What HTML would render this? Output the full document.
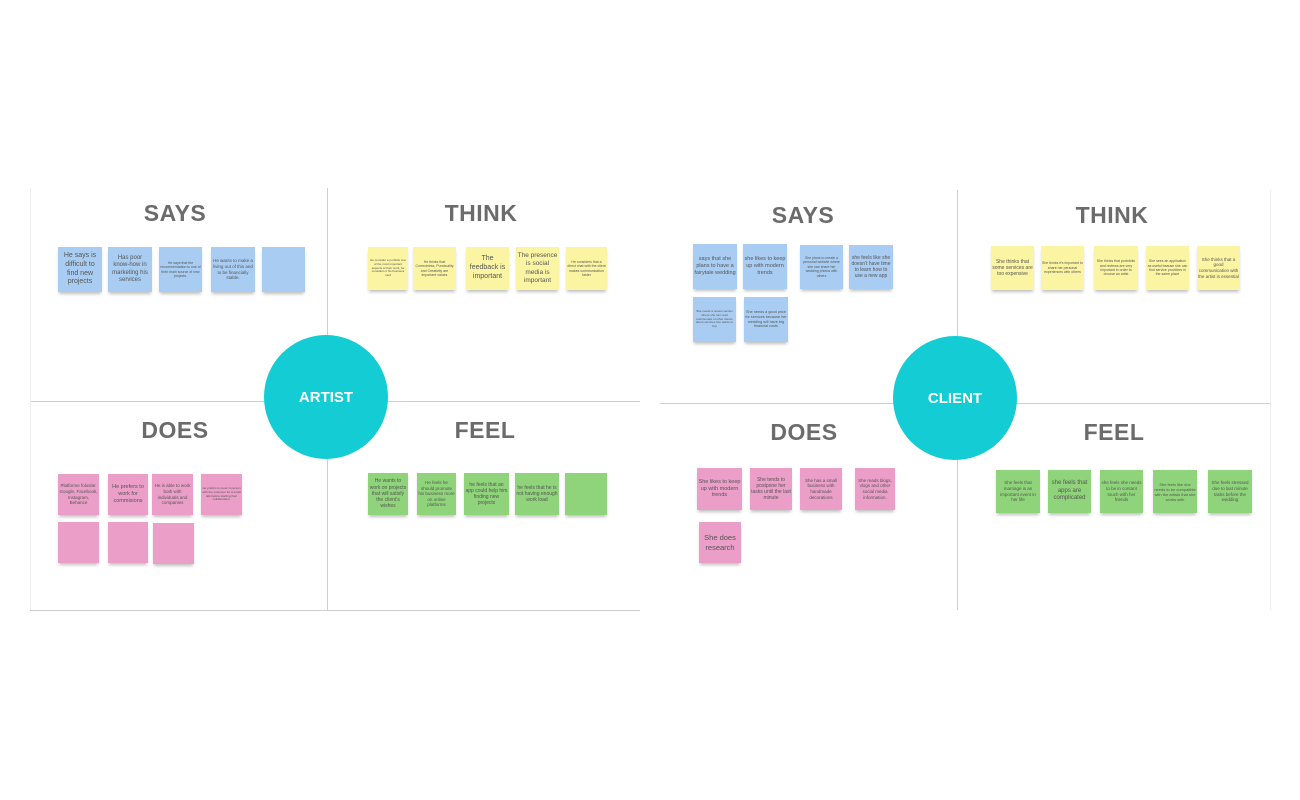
<!DOCTYPE html>
<html><head><meta charset="utf-8"><style>
body{margin:0;width:1300px;height:800px;background:#fff;position:relative;overflow:hidden;font-family:"Liberation Sans",sans-serif}
.l{position:absolute;background:#cfcfcf}
.t{position:absolute;font-weight:bold;color:#6b6b6b;font-size:23px;transform:translateX(-50%);letter-spacing:0.5px}
.c{position:absolute;border-radius:50%;background:#14ccd3;color:#fff;font-weight:bold;font-size:15px;display:flex;align-items:center;justify-content:center}
.s{position:absolute;display:flex;align-items:center;justify-content:center;text-align:center;color:#555;line-height:1.25;box-shadow:0 3px 3px -1px rgba(0,0,0,0.25);overflow:hidden;padding:1px}
.b{background:#a9cdf2}.y{background:#fbf5a3}.p{background:#eb9ec8}.g{background:#8fd47a}
</style></head><body>
<!-- Artist board -->
<div class="l" style="left:327px;top:188px;width:1px;height:423px"></div>
<div class="l" style="left:30px;top:401px;width:610px;height:1px"></div>
<div class="l" style="left:30px;top:610px;width:610px;height:1px"></div>
<div class="l" style="left:30px;top:188px;width:1px;height:422px;background:#eee"></div>
<div class="t" style="left:175px;top:200px">SAYS</div>
<div class="t" style="left:481px;top:200px">THINK</div>
<div class="t" style="left:175px;top:417px">DOES</div>
<div class="t" style="left:485px;top:417px">FEEL</div>
<div class="c" style="left:264px;top:335px;width:124px;height:124px">ARTIST</div>

<div class="s b" style="left:58px;top:247px;width:42px;height:43px;font-size:7px">He says is difficult to find new projects</div>
<div class="s b" style="left:108px;top:247px;width:42px;height:43px;font-size:6px">Has poor know-how in marketing his services</div>
<div class="s b" style="left:159px;top:247px;width:41px;height:43px;font-size:3.5px">He says that the recommendation is one of their main source of new projects.</div>
<div class="s b" style="left:211px;top:247px;width:42px;height:43px;font-size:4.5px">He wants to make a living out of this and to be financially stable.</div>
<div class="s b" style="left:262px;top:247px;width:41px;height:43px"></div>

<div class="s y" style="left:368px;top:247px;width:38px;height:41px;font-size:3px">He consider a portfolio one of the most important aspects of their work, he considers it his business card</div>
<div class="s y" style="left:413px;top:247px;width:41px;height:41px;font-size:3.5px">He thinks that Correctness, Punctuality and Creativity are important values</div>
<div class="s y" style="left:466px;top:247px;width:41px;height:41px;font-size:7px">The feedback is important</div>
<div class="s y" style="left:516px;top:247px;width:41px;height:41px;font-size:6.5px">The presence is social media is important</div>
<div class="s y" style="left:566px;top:247px;width:39px;height:41px;font-size:3.5px">He considers that a direct chat with the client makes communication faster</div>

<div class="s p" style="left:58px;top:474px;width:39px;height:39px;font-size:4.5px">Platforme folosite: Google, Facebook, Instagram, Behance</div>
<div class="s p" style="left:108px;top:474px;width:38px;height:39px;font-size:5.5px">He prefers to work for commisions</div>
<div class="s p" style="left:152px;top:474px;width:39px;height:39px;font-size:4.5px">He is able to work both with individuals and companies</div>
<div class="s p" style="left:201px;top:474px;width:39px;height:39px;font-size:3px">He prefers to meet in person with the customer for a small talk before starting their collaboration.</div>
<div class="s p" style="left:58px;top:522px;width:39px;height:39px"></div>
<div class="s p" style="left:108px;top:522px;width:38px;height:39px"></div>
<div class="s p" style="left:153px;top:523px;width:39px;height:39px"></div>

<div class="s g" style="left:368px;top:473px;width:38px;height:40px;font-size:5px">He wants to work on projects that will satisfy the client's wishes</div>
<div class="s g" style="left:417px;top:473px;width:37px;height:40px;font-size:4.5px">He feels he should promote his business more on online platforms</div>
<div class="s g" style="left:464px;top:473px;width:43px;height:40px;font-size:5px">he feels that an app could help him finding new projects</div>
<div class="s g" style="left:515px;top:473px;width:42px;height:40px;font-size:5px">he feels that he is not having enough work load</div>
<div class="s g" style="left:565px;top:473px;width:40px;height:40px"></div>

<!-- Client board -->
<div class="l" style="left:957px;top:190px;width:1px;height:420px"></div>
<div class="l" style="left:660px;top:403px;width:610px;height:1px"></div>
<div class="l" style="left:1270px;top:190px;width:1px;height:420px;background:#eee"></div>
<div class="t" style="left:803px;top:202px">SAYS</div>
<div class="t" style="left:1112px;top:202px">THINK</div>
<div class="t" style="left:804px;top:419px">DOES</div>
<div class="t" style="left:1114px;top:419px">FEEL</div>
<div class="c" style="left:893px;top:336px;width:124px;height:124px">CLIENT</div>

<div class="s b" style="left:693px;top:244px;width:42px;height:43px;font-size:5.5px">says that she plans to have a fairytale wedding</div>
<div class="s b" style="left:743px;top:244px;width:42px;height:43px;font-size:5.5px">she likes to keep up with modern trends</div>
<div class="s b" style="left:800px;top:245px;width:41px;height:42px;font-size:3.5px">She plans to create a personal website where she can share her wedding photos with others</div>
<div class="s b" style="left:849px;top:245px;width:42px;height:42px;font-size:5px">she feels like she doesn't have time to learn how to use a new app</div>
<div class="s b" style="left:693px;top:297px;width:41px;height:43px;font-size:3px">She needs a review section where she can read testimonials of other clients about services she wants to buy</div>
<div class="s b" style="left:744px;top:297px;width:42px;height:43px;font-size:3.8px">She needs a good price for services because her wedding will have big financial costs</div>

<div class="s y" style="left:991px;top:246px;width:41px;height:42px;font-size:5px">She thinks that some services are too expensive</div>
<div class="s y" style="left:1041px;top:246px;width:41px;height:42px;font-size:3.5px">She thinks it's important to share her personal experiences with others</div>
<div class="s y" style="left:1094px;top:246px;width:42px;height:42px;font-size:3.5px">She thinks that portofolio and reviews are very important in order to choose an artist</div>
<div class="s y" style="left:1146px;top:246px;width:41px;height:42px;font-size:3.5px">She sees an application as useful beause she can find service providers in the same place</div>
<div class="s y" style="left:1197px;top:246px;width:41px;height:42px;font-size:4.5px">She thinks that a good communication with the artist is essential</div>

<div class="s p" style="left:697px;top:468px;width:43px;height:40px;font-size:5.5px">She likes to keep up with modern trends</div>
<div class="s p" style="left:750px;top:468px;width:40px;height:40px;font-size:5px">She tends to postpone her tasks until the last minute</div>
<div class="s p" style="left:800px;top:468px;width:40px;height:40px;font-size:4.5px">She has a small business with handmade decorations</div>
<div class="s p" style="left:855px;top:468px;width:38px;height:40px;font-size:4.5px">She reads blogs, vlogs and other social media information.</div>
<div class="s p" style="left:699px;top:522px;width:40px;height:39px;font-size:7.5px">She does research</div>

<div class="s g" style="left:996px;top:470px;width:42px;height:41px;font-size:4.5px">She feels that marriage is an important event in her life</div>
<div class="s g" style="left:1048px;top:470px;width:41px;height:41px;font-size:6px">she feels that apps are complicated</div>
<div class="s g" style="left:1100px;top:470px;width:41px;height:41px;font-size:4.5px">she feels she needs to be in contant touch with her friends</div>
<div class="s g" style="left:1153px;top:470px;width:42px;height:41px;font-size:4px">She feels like she needs to be compatible with the artists that she works with</div>
<div class="s g" style="left:1208px;top:470px;width:42px;height:41px;font-size:4.5px">She feels stressed due to last minute tasks before the wedding</div>
</body></html>
